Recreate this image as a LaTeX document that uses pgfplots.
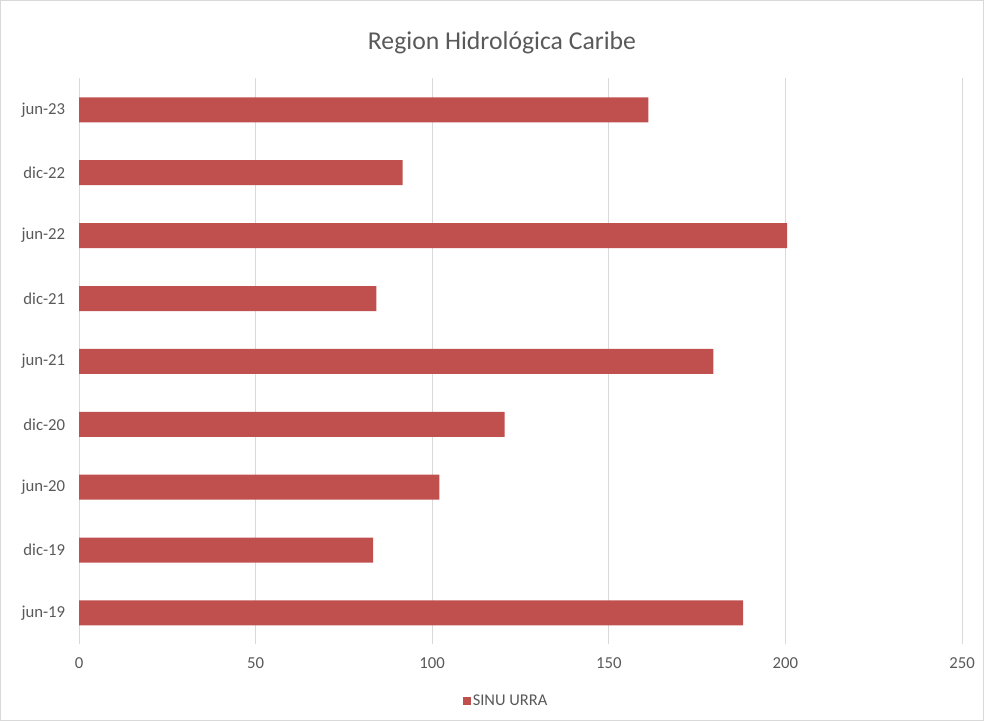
\documentclass[border=0pt]{standalone}
\usepackage{pgfplots}
\pgfplotsset{compat=1.18}
\usepackage{fontspec}
\setmainfont{Carlito}
\definecolor{barred}{HTML}{C0504D}
\definecolor{txtgray}{HTML}{595959}
\definecolor{gridgray}{HTML}{D9D9D9}
\begin{document}
\begin{tikzpicture}[x=1bp,y=1bp]
\useasboundingbox (0,0) rectangle (984,721);
\draw[gridgray,line width=0.8bp] (0.5,0.5) rectangle (983.5,720.5);
\node[text=txtgray,font=\fontsize{25.8}{30}\selectfont] at (502,678) {Region Hidrológica Caribe};
\begin{axis}[
  at={(79bp,76.6bp)}, anchor=south west,
  scale only axis, width=883bp, height=566bp,
  xmin=0, xmax=250, ymin=-0.5, ymax=8.5,
  xtick={0,50,...,250},
  ytick={0,...,8},
  yticklabels={jun-19,dic-19,jun-20,dic-20,jun-21,dic-21,jun-22,dic-22,jun-23},
  xmajorgrids, grid style={gridgray,line width=0.8bp},
  axis line style={draw=none},
  major tick style={draw=none},
  tick label style={text=txtgray,font=\fontsize{16.8}{20}\selectfont},
  /pgf/number format/assume math mode=true,
  xticklabel style={yshift=-10bp},
  yticklabel style={xshift=-6bp},
  xbar, bar width=25bp,
  legend style={at={(0.4836,-0.1)},anchor=center,draw=none,font=\fontsize{16.5}{19}\selectfont,text=txtgray},
  legend image code/.code={\fill[barred] (0bp,-4bp) rectangle (8bp,4bp);},
]
\addplot[fill=barred,draw=none] coordinates {
(188.0,0) (83.3,1) (102.0,2) (120.5,3) (179.6,4) (84.2,5) (200.5,6) (91.6,7) (161.2,8)
};
\addlegendentry{SINU URRA}
\end{axis}
\end{tikzpicture}
\end{document}
